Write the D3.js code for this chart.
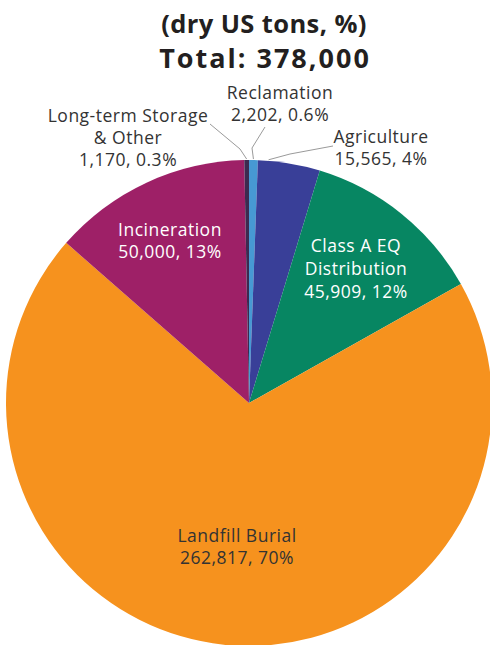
<!DOCTYPE html>
<html><head><meta charset="utf-8">
<script src="https://cdn.jsdelivr.net/npm/d3@7"></script>
<style>
html,body{margin:0;padding:0;background:#fff;}
svg{display:block;}
</style></head>
<body>
<svg id="chart" width="490" height="645"></svg>
<script>
const categories = ["Reclamation","Agriculture","Class A EQ Distribution","Landfill Burial","Incineration","Long-term Storage & Other"];
const values = [2202, 15565, 45909, 262817, 50000, 1170];
const percents = ["0.6%","4%","12%","70%","13%","0.3%"];
const colors = ["#4799d3","#393f98","#078662","#f6921e","#9e2067","#3c2a50"];
const titleLines = ["(dry US tons, %)","Total: 378,000"];

const svg = d3.select("#chart");
const cx = 249, cy = 403, R = 243;
const fmt = d3.format(",");

// titles
svg.append("text").attr("x",264).attr("y",33).attr("text-anchor","middle")
  .attr("font-family","'Open Sans', sans-serif").attr("font-weight",700)
  .attr("font-size",25.5).attr("letter-spacing",0.4).attr("fill","#231f20").text(titleLines[0]);
svg.append("text").attr("x",265).attr("y",68).attr("text-anchor","middle")
  .attr("font-family","'Open Sans', sans-serif").attr("font-weight",700)
  .attr("font-size",27).attr("letter-spacing",2).attr("fill","#231f20").text(titleLines[1]);

const pie = d3.pie().sort(null).value(d=>d).startAngle(0).endAngle(2*Math.PI);
const arcs = pie(values);
const arc = d3.arc().innerRadius(0).outerRadius(R);

const g = svg.append("g").attr("transform",`translate(${cx},${cy})`);
g.selectAll("path").data(arcs).join("path")
  .attr("d",arc).attr("fill",(d,i)=>colors[i]);

const font = "'Open Sans', sans-serif";
function label(lines, x, y0, color, lh=22.5){
  const t = svg.append("text").attr("text-anchor","middle")
    .attr("font-family",font).attr("font-size",17.5).attr("letter-spacing",0.5).attr("fill",color);
  lines.forEach((s,k)=>t.append("tspan").attr("x",x).attr("y",y0+k*lh).text(s));
}
const vl = i => `${fmt(values[i])}, ${percents[i]}`;

// outside labels
label(["Reclamation", vl(0)], 280, 99, "#333333", 22);
label(["Agriculture", vl(1)], 381, 143, "#333333", 22);
label(["Long-term Storage","& Other", vl(5)], 128, 122, "#333333", 21.8);
// inside labels
label(["Incineration", vl(4)], 170, 236, "#ffffff", 22);
label(["Class A EQ","Distribution", vl(2)], 356, 252, "#ffffff", 23);
label(["Landfill Burial", vl(3)], 237, 542, "#333333", 22);

// leader lines: from label to slice rim
function rimPoint(d, f){
  const a = d.startAngle + (d.endAngle - d.startAngle)*f;
  return [cx + R*Math.sin(a), cy - R*Math.cos(a)];
}
const leaders = [
  {i:5, f:0.5, pts:[[210,124],[240,149]]},
  {i:0, f:0.5, pts:[[265,127],[252,148]]},
  {i:1, f:0.17, pts:[[333,146],[290,154]]}
];
leaders.forEach(L=>{
  const p = rimPoint(arcs[L.i], L.f);
  const pts = L.pts.concat([[p[0], p[1]-1]]);
  svg.append("path").attr("d", d3.line()(pts))
    .attr("fill","none").attr("stroke","#9a9a9a").attr("stroke-width",1);
});
</script>
</body></html>
